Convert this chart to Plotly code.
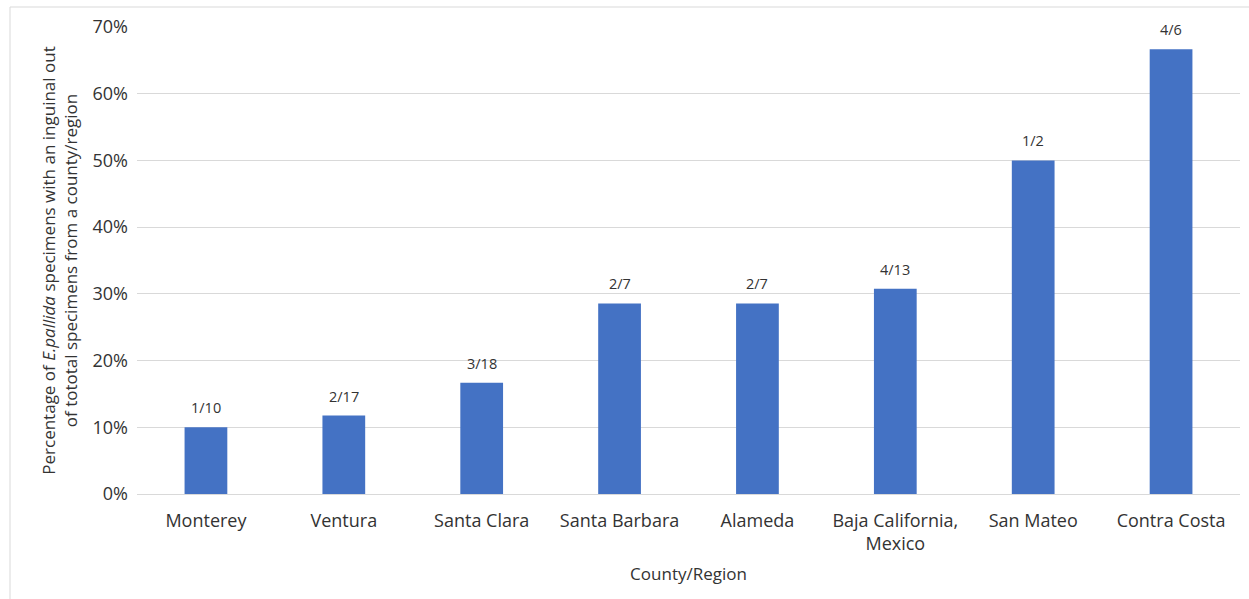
import plotly.graph_objects as go

categories = ["Monterey", "Ventura", "Santa Clara", "Santa Barbara", "Alameda",
              "Baja California,<br>Mexico", "San Mateo", "Contra Costa"]
inguinal_out = [1, 2, 3, 2, 2, 4, 1, 4]
total_specimens = [10, 17, 18, 7, 7, 13, 2, 6]
percentages = [a / b for a, b in zip(inguinal_out, total_specimens)]
labels = [f"{a}/{b}" for a, b in zip(inguinal_out, total_specimens)]
y_ticks = [0, 0.1, 0.2, 0.3, 0.4, 0.5, 0.6, 0.7]

FONT = "Open Sans"
TXT = "#333333"

fig = go.Figure(go.Bar(
    x=categories, y=percentages,
    marker=dict(color="#4472C4", line=dict(width=0)),
))

for c, p, lab in zip(categories, percentages, labels):
    fig.add_annotation(x=c, y=p, text=lab, showarrow=False, yanchor="bottom",
                       yshift=8, font=dict(family=FONT, size=14.5, color=TXT))

W, H = 1249, 599
L, R, T, B = 137, 9, 27, 105
pw, ph = W - L - R, H - T - B

fig.update_layout(
    width=W, height=H,
    margin=dict(l=L, r=R, t=T, b=B, pad=0),
    paper_bgcolor="white", plot_bgcolor="white",
    bargap=0.69, showlegend=False,
    font=dict(family=FONT, size=15, color=TXT),
    xaxis=dict(
        showgrid=False, showline=True, linecolor="#d9d9d9", linewidth=1,
        tickfont=dict(size=18, color=TXT), ticks="", ticklabelstandoff=10,
        title=dict(text="County/Region", font=dict(size=17, color=TXT), standoff=14),
    ),
    yaxis=dict(
        range=[0, 0.7], tickvals=y_ticks, tickformat=".0%",
        showgrid=True, gridcolor="#d9d9d9", gridwidth=1, zeroline=False,
        tickfont=dict(size=18, color=TXT), ticklabelstandoff=8,
        title=dict(text="Percentage of <i>E.pallida</i> specimens with an inguinal out<br>of tototal specimens from a county/region",
                   font=dict(size=17, color=TXT), standoff=10),
    ),
    shapes=[
        dict(type="line", xref="paper", yref="paper",
             x0=(10 - L) / pw, x1=(W - L) / pw, y0=1 + (T - 7) / ph, y1=1 + (T - 7) / ph,
             line=dict(color="#d9d9d9", width=1)),
        dict(type="line", xref="paper", yref="paper",
             x0=(10 - L) / pw, x1=(10 - L) / pw, y0=1 + (T - 7) / ph, y1=-(H - T - ph) / ph,
             line=dict(color="#d9d9d9", width=1)),
    ],
)

fig.write_html("out.html")
